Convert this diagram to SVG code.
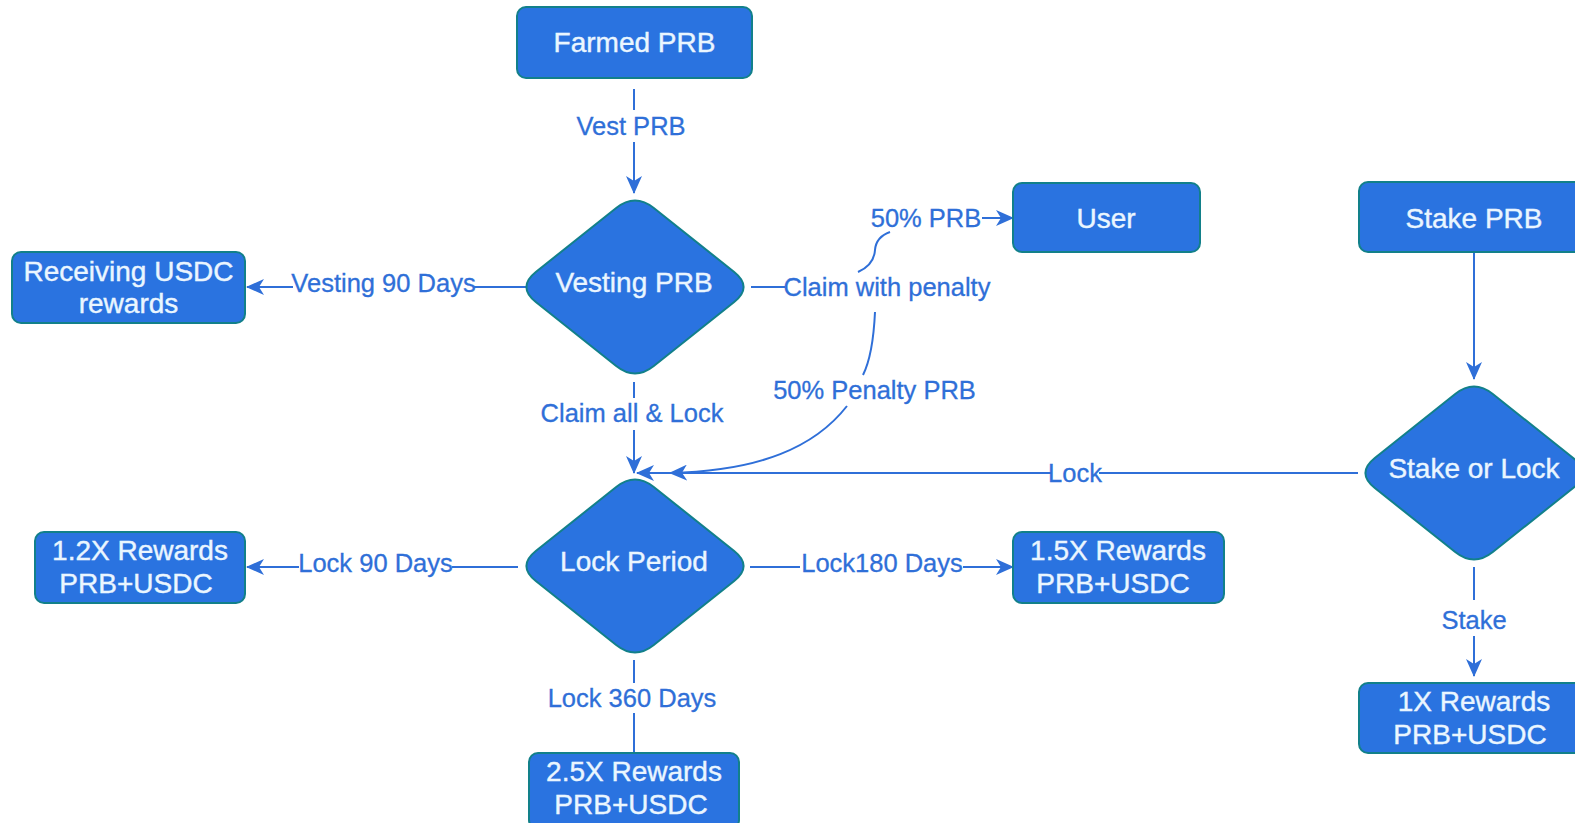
<svg xmlns="http://www.w3.org/2000/svg" xmlns:xlink="http://www.w3.org/1999/xlink" width="1575" height="823" viewBox="0 0 1575 823">
<style>
.box{fill:#2A73E0;stroke:#12808A;stroke-width:2}
.nt{font-family:"Liberation Sans",Arial,sans-serif;font-size:28px;fill:#EAF6FF;stroke:#EAF6FF;stroke-width:0.4;text-anchor:middle}
.el{fill:none;stroke:#2F6FD8;stroke-width:2}
.lt{font-family:"Liberation Sans",Arial,sans-serif;font-size:25.5px;fill:#2F6FD8;stroke:#2F6FD8;stroke-width:0.3;text-anchor:middle}
</style>
<defs>
<marker id="arr" viewBox="0 0 18 16" refX="17" refY="8" markerWidth="18" markerHeight="16" markerUnits="userSpaceOnUse" orient="auto">
<path d="M0,0 L18,8 L0,16 L5,8 Z" fill="#2F6FD8"/>
</marker>
<path id="dia" d="M18.8,-79 L99.2,-15 Q118,0 99.2,15 L18.8,79 Q0,94 -18.8,79 L-99.2,15 Q-118,0 -99.2,-15 L-18.8,-79 Q0,-94 18.8,-79 Z"/>
</defs>
<rect width="1575" height="823" fill="#ffffff"/>

<g id="connectors">
<!-- Farmed -> Vesting -->
<line class="el" x1="634" y1="89" x2="634" y2="110"/>
<line class="el" x1="634" y1="142" x2="634" y2="193" marker-end="url(#arr)"/>
<text class="lt" x="631" y="135">Vest PRB</text>
<!-- Vesting -> Receiving -->
<line class="el" x1="526" y1="287" x2="474" y2="287"/>
<line class="el" x1="293" y1="287" x2="247" y2="287" marker-end="url(#arr)"/>
<text class="lt" x="383.5" y="292">Vesting 90 Days</text>
<!-- Vesting -> Claim with penalty -->
<line class="el" x1="751" y1="287" x2="785" y2="287"/>
<text class="lt" x="887" y="296">Claim with penalty</text>
<path class="el" d="M858,272 Q874,265 875,250 Q876,237 890,232"/>
<text class="lt" x="926" y="227">50% PRB</text>
<line class="el" x1="982" y1="218" x2="1013" y2="218" marker-end="url(#arr)"/>
<path class="el" d="M875,312 Q873,355 863,375"/>
<text class="lt" x="874.5" y="399">50% Penalty PRB</text>
<path class="el" d="M847,406 C815,447 760,471 670,473" marker-end="url(#arr)"/>
<!-- Claim all & Lock -->
<line class="el" x1="634" y1="382" x2="634" y2="398"/>
<text class="lt" x="632" y="422">Claim all &amp; Lock</text>
<line class="el" x1="634" y1="430" x2="634" y2="473" marker-end="url(#arr)"/>
<!-- Stake or Lock -> Lock Period -->
<line class="el" x1="1358" y1="473" x2="1099" y2="473"/>
<text class="lt" x="1075" y="482">Lock</text>
<line class="el" x1="1051" y1="473" x2="637" y2="473" marker-end="url(#arr)"/>
<!-- Lock Period -> 1.2X -->
<line class="el" x1="518" y1="567" x2="452" y2="567"/>
<text class="lt" x="375.5" y="572">Lock 90 Days</text>
<line class="el" x1="299" y1="567" x2="247" y2="567" marker-end="url(#arr)"/>
<!-- Lock Period -> 1.5X -->
<line class="el" x1="750" y1="567" x2="800" y2="567"/>
<text class="lt" x="882" y="572">Lock180 Days</text>
<line class="el" x1="963" y1="567" x2="1013" y2="567" marker-end="url(#arr)"/>
<!-- Lock Period -> 2.5X -->
<line class="el" x1="634" y1="660" x2="634" y2="683"/>
<text class="lt" x="632" y="707">Lock 360 Days</text>
<line class="el" x1="634" y1="713" x2="634" y2="753"/>
<!-- Stake PRB -> Stake or Lock -->
<line class="el" x1="1474" y1="252" x2="1474" y2="379" marker-end="url(#arr)"/>
<!-- Stake or Lock -> 1X -->
<line class="el" x1="1474" y1="567" x2="1474" y2="600"/>
<text class="lt" x="1474" y="629">Stake</text>
<line class="el" x1="1474" y1="636" x2="1474" y2="676" marker-end="url(#arr)"/>
</g>

<g id="farmed-prb">
<rect class="box" x="517" y="7" width="235" height="71" rx="9"/>
<text class="nt" x="634.5" y="52">Farmed PRB</text>
</g>
<g id="vesting-prb">
<use href="#dia" xlink:href="#dia" class="box" x="635" y="287"/>
<text class="nt" x="634" y="292">Vesting PRB</text>
</g>
<g id="receiving-usdc">
<rect class="box" x="12" y="252" width="233" height="71" rx="9"/>
<text class="nt" x="128.5" y="280.5">Receiving USDC</text>
<text class="nt" x="128.5" y="312.5">rewards</text>
</g>
<g id="user">
<rect class="box" x="1013" y="183" width="187" height="69" rx="9"/>
<text class="nt" x="1106" y="227.5">User</text>
</g>
<g id="stake-prb">
<rect class="box" x="1359" y="182" width="232" height="70" rx="9"/>
<text class="nt" x="1474" y="227.5">Stake PRB</text>
</g>
<g id="stake-or-lock">
<use href="#dia" xlink:href="#dia" class="box" x="1474" y="473"/>
<text class="nt" x="1474" y="478">Stake or Lock</text>
</g>
<g id="lock-period">
<use href="#dia" xlink:href="#dia" class="box" x="635" y="566"/>
<text class="nt" x="634" y="571">Lock Period</text>
</g>
<g id="rewards-1-2x">
<rect class="box" x="35" y="532" width="210" height="71" rx="9"/>
<text class="nt" x="140" y="560">1.2X Rewards</text>
<text class="nt" x="136" y="593">PRB+USDC</text>
</g>
<g id="rewards-1-5x">
<rect class="box" x="1013" y="532" width="211" height="71" rx="9"/>
<text class="nt" x="1118" y="560">1.5X Rewards</text>
<text class="nt" x="1113" y="593">PRB+USDC</text>
</g>
<g id="rewards-2-5x">
<rect class="box" x="529" y="753" width="210" height="76" rx="9"/>
<text class="nt" x="634" y="780.5">2.5X Rewards</text>
<text class="nt" x="631" y="813.5">PRB+USDC</text>
</g>
<g id="rewards-1x">
<rect class="box" x="1359" y="683" width="232" height="70" rx="9"/>
<text class="nt" x="1474" y="710.5">1X Rewards</text>
<text class="nt" x="1470" y="743.5">PRB+USDC</text>
</g>
</svg>
